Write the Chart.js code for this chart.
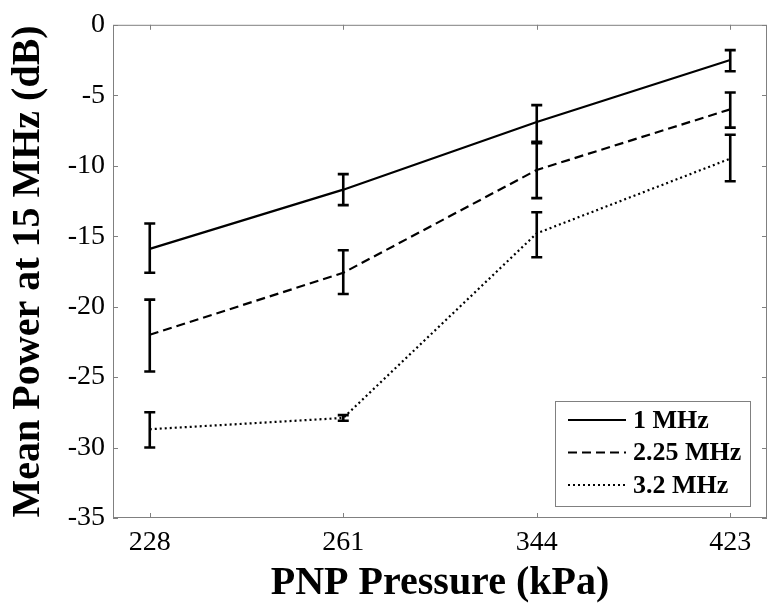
<!DOCTYPE html>
<html>
<head>
<meta charset="utf-8">
<script src="https://cdn.jsdelivr.net/npm/chart.js@4"></script>
<style>
  html, body { margin: 0; padding: 0; background: #fff; }
  #wrap { width: 770px; height: 610px; }
</style>
</head>
<body>
<div id="wrap"><canvas id="powerChart" width="770" height="610"></canvas></div>
<script>
// Dane
const pressures = ['228', '261', '344', '423'];
const seriesNames = ['1 MHz', '2.25 MHz', '3.2 MHz'];

const mean1 = [-15.9, -11.7, -6.9, -2.5];
const low1 = [-17.6, -12.8, -8.4, -3.3];
const high1 = [-14.1, -10.6, -5.7, -1.8];

const mean2 = [-22.0, -17.6, -10.3, -6.0];
const low2 = [-24.6, -19.1, -12.3, -7.3];
const high2 = [-19.5, -16.0, -8.3, -4.8];

const mean3 = [-28.7, -27.9, -14.8, -9.5];
const low3 = [-30.0, -28.1, -16.5, -11.1];
const high3 = [-27.5, -27.7, -13.3, -7.8];

const yTicks = [0, -5, -10, -15, -20, -25, -30, -35];

const serif = '"Liberation Serif", "Times New Roman", serif';
const axisGray = '#808080';

function toPoints(values) {
    return values.map((v, i) => ({ x: i, y: v }));
}

// Słupki błędów
const errorBars = {
    id: 'errorBars',
    afterDatasetsDraw(chart) {
        const ctx = chart.ctx;
        const xs = chart.scales.x, ys = chart.scales.y;
        ctx.save();
        ctx.strokeStyle = '#000';
        ctx.lineWidth = 2.6;
        ctx.setLineDash([]);
        chart.data.datasets.forEach(ds => {
            ds.low.forEach((lo, j) => {
                const x = xs.getPixelForValue(j);
                const y1 = ys.getPixelForValue(lo);
                const y2 = ys.getPixelForValue(ds.high[j]);
                const cap = 5.5;
                ctx.beginPath();
                ctx.moveTo(x, y1); ctx.lineTo(x, y2);
                ctx.moveTo(x - cap, y1); ctx.lineTo(x + cap, y1);
                ctx.moveTo(x - cap, y2); ctx.lineTo(x + cap, y2);
                ctx.stroke();
            });
        });
        ctx.restore();
    }
};

// Ramka i znaczniki skierowane do środka
const frame = {
    id: 'frame',
    afterDraw(chart) {
        const ctx = chart.ctx;
        const a = chart.chartArea;
        const xs = chart.scales.x, ys = chart.scales.y;
        const t = 5;
        ctx.save();
        ctx.strokeStyle = axisGray;
        ctx.lineWidth = 1;
        ctx.strokeRect(a.left + 0.5, a.top + 0.5, a.right - a.left - 1, a.bottom - a.top - 1);
        ctx.beginPath();
        xs.ticks.forEach(tk => {
            const x = Math.round(xs.getPixelForValue(tk.value)) + 0.5;
            ctx.moveTo(x, a.bottom); ctx.lineTo(x, a.bottom - t);
            ctx.moveTo(x, a.top); ctx.lineTo(x, a.top + t);
        });
        ys.ticks.forEach(tk => {
            const y = Math.round(ys.getPixelForValue(tk.value)) + 0.5;
            ctx.moveTo(a.left, y); ctx.lineTo(a.left + t, y);
            ctx.moveTo(a.right, y); ctx.lineTo(a.right - t, y);
        });
        ctx.stroke();

        // Legenda w prawym dolnym rogu
        const bw = 195, bh = 105;
        const bx = a.right - 17 - bw, by = a.bottom - 12 - bh;
        ctx.fillStyle = '#fff';
        ctx.fillRect(bx, by, bw, bh);
        ctx.strokeStyle = axisGray;
        ctx.strokeRect(bx + 0.5, by + 0.5, bw, bh);
        ctx.font = 'bold 26px ' + serif;
        ctx.textBaseline = 'middle';
        ctx.fillStyle = '#000';
        chart.data.datasets.forEach((ds, i) => {
            const y = by + 19 + i * 32.5;
            ctx.strokeStyle = '#000';
            ctx.lineWidth = ds.borderWidth;
            ctx.setLineDash(ds.borderDash || []);
            ctx.beginPath();
            ctx.moveTo(bx + 13, y); ctx.lineTo(bx + 71, y);
            ctx.stroke();
            ctx.fillText(ds.label, bx + 78, y + 1);
        });
        ctx.restore();
    }
};

new Chart(document.getElementById('powerChart').getContext('2d'), {
    type: 'line',
    data: {
        datasets: [
            { label: seriesNames[0], data: toPoints(mean1), low: low1, high: high1,
              borderColor: '#000', borderWidth: 2.2, pointRadius: 0, tension: 0 },
            { label: seriesNames[1], data: toPoints(mean2), low: low2, high: high2,
              borderColor: '#000', borderWidth: 2.2, borderDash: [9, 5], pointRadius: 0, tension: 0 },
            { label: seriesNames[2], data: toPoints(mean3), low: low3, high: high3,
              borderColor: '#000', borderWidth: 2.2, borderDash: [2, 3], pointRadius: 0, tension: 0 }
        ]
    },
    options: {
        responsive: false,
        animation: false,
        layout: { padding: { top: 22, right: 3, left: 0, bottom: 0 } },
        plugins: {
            legend: { display: false },
            tooltip: { enabled: false }
        },
        scales: {
            x: {
                type: 'linear',
                min: -0.19,
                max: 3.19,
                afterBuildTicks: scale => { scale.ticks = pressures.map((p, i) => ({ value: i })); },
                afterFit: scale => { scale.height = 92; },
                grid: { display: false, drawTicks: false },
                border: { display: false },
                ticks: {
                    color: '#000',
                    padding: 8,
                    font: { family: serif, size: 28 },
                    callback: v => pressures[v]
                },
                title: {
                    display: true,
                    text: 'PNP Pressure (kPa)',
                    color: '#000',
                    font: { family: serif, size: 40, weight: 'bold' },
                    padding: { top: 0, bottom: 2 }
                }
            },
            y: {
                min: -35,
                max: 0,
                afterBuildTicks: scale => { scale.ticks = yTicks.map(v => ({ value: v })); },
                afterFit: scale => { scale.width = 113; },
                grid: { display: false, drawTicks: false },
                border: { display: false },
                ticks: {
                    color: '#000',
                    padding: 8,
                    font: { family: serif, size: 28 }
                },
                title: {
                    display: true,
                    text: 'Mean Power at 15 MHz (dB)',
                    color: '#000',
                    font: { family: serif, size: 40, weight: 'bold' },
                    padding: { top: 5, bottom: 0 }
                }
            }
        }
    },
    plugins: [errorBars, frame]
});
</script>
</body>
</html>
